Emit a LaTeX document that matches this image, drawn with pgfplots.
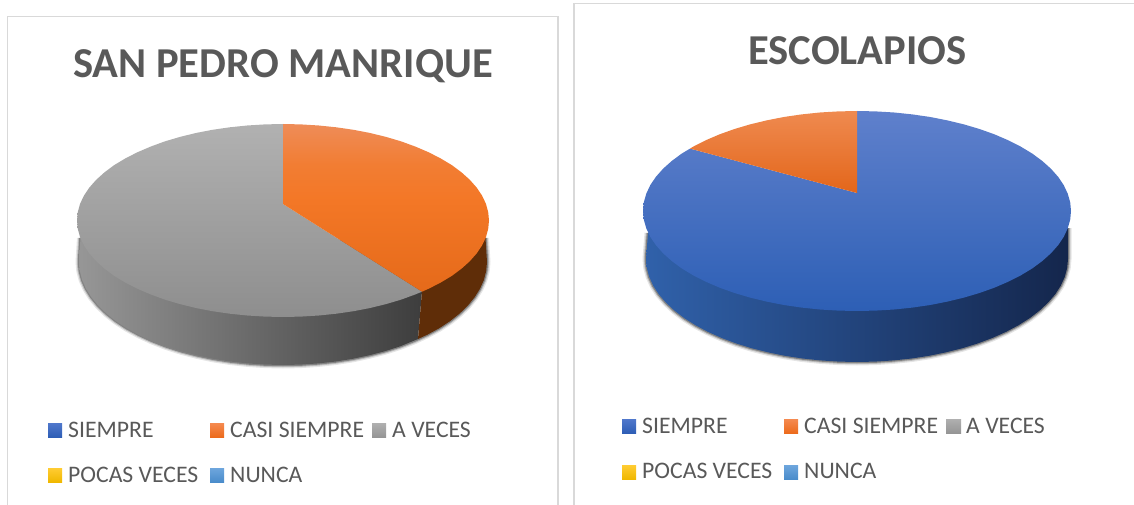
\documentclass[border=0pt]{standalone}
\usepackage{pgfplots}
\usepackage{pgfplotstable}
\usepackage{fontspec}
\setmainfont{Carlito}
\pgfplotsset{compat=1.18}
\definecolor{tc}{HTML}{595959}
\definecolor{bc}{HTML}{D9D9D9}
\definecolor{oa}{HTML}{EE8C58}
\definecolor{ob}{HTML}{F27D33}
\definecolor{oc}{HTML}{F37726}
\definecolor{od}{HTML}{E56A1A}
\pgfdeclareverticalshading{orangeA}{100bp}{color(0bp)=(od);color(25bp)=(od);color(52bp)=(oc);color(63bp)=(ob);color(75bp)=(oa);color(100bp)=(oa)}
\newcommand{\lgd}[3]{\node[anchor=base west, text=tc, inner sep=0pt] at (axis cs:#1,#2) {\fontsize{23.7}{23.7}\selectfont #3};}
% ---- lower rim arcs of the two pies (pixel coordinates of the picture)
\pgfplotstableread{
x y
80.5 238
79 262
79.8 271
82.1 279.9
86 288.7
91.3 297.2
98.1 305.5
106.3 313.5
115.9 321.1
126.7 328.2
138.8 334.8
151.9 340.9
166 346.4
181 351.2
196.8 355.3
213.2 358.8
230.2 361.5
247.6 363.4
265.2 364.6
283 365
300.8 364.6
318.4 363.4
335.8 361.5
352.8 358.8
369.2 355.3
385 351.2
400 346.4
414.1 340.9
427.2 334.8
439.3 328.2
450.1 321.1
459.7 313.5
467.9 305.5
474.7 297.2
480 288.7
483.9 279.9
486.2 271
487 262
485.5 238
}\rimA
\pgfplotstableread{
x y
648 233
646 259
646.8 268
649.2 276.9
653.2 285.7
658.7 294.2
665.8 302.5
674.3 310.5
684.2 318.1
695.4 325.2
707.8 331.8
721.4 337.9
736 343.4
751.5 348.2
767.8 352.3
784.8 355.8
802.4 358.5
820.4 360.4
838.6 361.6
857 362
875.4 361.6
893.6 360.4
911.6 358.5
929.2 355.8
946.2 352.3
962.5 348.2
978 343.4
992.6 337.9
1006.2 331.8
1018.6 325.2
1029.8 318.1
1039.7 310.5
1048.2 302.5
1055.3 294.2
1060.8 285.7
1064.8 276.9
1067.2 268
1068 259
1068 228
}\rimB
\begin{document}
\begin{tikzpicture}
\useasboundingbox (0,0) rectangle (1134pt,505pt);
\begin{axis}[
  scale only axis, width=1134pt, height=505pt,
  xmin=0, xmax=1134, ymin=0, ymax=505, y dir=reverse,
  hide axis, clip=true, axis on top=false,
]
% panel borders
\addplot[draw=bc, line width=1.5pt] coordinates {(7.5,510) (7.5,16.5) (558,16.5) (558,510)};
\addplot[draw=bc, line width=1.5pt] coordinates {(574,510) (574,3.5) (1140,3.5)};

% ---------- pie 1: soft shadow
\addplot[draw=black, opacity=.10, line width=7pt, line join=round] table[x=x,y=y] {\rimA};
\addplot[draw=black, opacity=.18, line width=4.5pt, line join=round] table[x=x,y=y] {\rimA};
\addplot[draw=black, opacity=.30, line width=2.5pt, line join=round] table[x=x,y=y] {\rimA};
% pie 1: rim
\addplot[draw=none, left color=black!41, middle color=black!65, right color=black!76] coordinates {
(80.5,238)(79,262)(79.8,271)(82.1,279.9)(86,288.7)(91.3,297.2)(98.1,305.5)(106.3,313.5)(115.9,321.1)(126.7,328.2)(138.8,334.8)(151.9,340.9)(166,346.4)(181,351.2)(196.8,355.3)(213.2,358.8)(230.2,361.5)(247.6,363.4)(265.2,364.6)(283,365)(300.8,364.6)(318.4,363.4)(335.8,361.5)(352.8,358.8)(369.2,355.3)(385,351.2)(400,346.4)(418,339)(422,291)(422,240)};
\addplot[fill={rgb,255:red,95;green,45;blue,8}, draw=none] coordinates {
(418,339)(427.2,334.8)(439.3,328.2)(450.1,321.1)(459.7,313.5)(467.9,305.5)(474.7,297.2)(480,288.7)(483.9,279.9)(486.2,271)(487,262)(485.5,238)(422,240)(422,291)};
% pie 1: top, grey slice
\addplot[draw=none, top color={rgb,255:red,177;green,177;blue,177}, bottom color={rgb,255:red,142;green,142;blue,142}] coordinates {
(283,204)(422,291.7)(415.4,294.4)(401.2,299.6)(386,304.1)(370.1,308)(353.5,311.2)(336.3,313.7)(318.8,315.5)(301,316.6)(283,317)(265,316.6)(247.2,315.5)(229.7,313.7)(212.5,311.2)(195.9,308)(180,304.1)(164.8,299.6)(150.6,294.4)(137.3,288.7)(125.2,282.5)(114.2,275.9)(104.6,268.75)(96.3,261.3)(89.4,253.5)(84,245.5)(80.1,237.3)(77.8,228.9)(77,220.5)(77.8,212.1)(80.1,203.7)(84,195.5)(89.4,187.5)(96.3,179.7)(104.6,172.25)(114.2,165.1)(125.2,158.5)(137.3,152.3)(150.6,146.6)(164.8,141.4)(180,136.9)(195.9,133)(212.5,129.8)(229.7,127.3)(247.2,125.5)(265,124.4)(283,124)};
% pie 1: top, orange slice
\addplot[draw=none, shade, shading=orangeA] coordinates {
(283,204)(283,124)(301,124.4)(318.8,125.5)(336.3,127.3)(353.5,129.8)(370.1,133)(386,136.9)(401.2,141.4)(415.4,146.6)(428.7,152.3)(440.8,158.5)(451.8,165.1)(461.4,172.25)(469.7,179.7)(476.6,187.5)(482,195.5)(485.9,203.7)(488.2,212.1)(489,220.5)(488.2,228.9)(485.9,237.3)(482,245.5)(476.6,253.5)(469.7,261.3)(461.4,268.75)(451.8,275.9)(440.8,282.5)(428.7,288.7)(422,291.7)};

% ---------- pie 2: soft shadow
\addplot[draw=black, opacity=.10, line width=7pt, line join=round] table[x=x,y=y] {\rimB};
\addplot[draw=black, opacity=.18, line width=4.5pt, line join=round] table[x=x,y=y] {\rimB};
\addplot[draw=black, opacity=.30, line width=2.5pt, line join=round] table[x=x,y=y] {\rimB};
% pie 2: rim
\addplot[draw=none, left color={rgb,255:red,48;green,97;blue,170}, middle color={rgb,255:red,26;green,54;blue,104}, right color={rgb,255:red,20;green,38;blue,76}] table[x=x,y=y] {\rimB};
% pie 2: top, blue slice
\addplot[draw=none, top color={rgb,255:red,95;green,128;blue,204}, middle color={rgb,255:red,62;green,110;blue,199}, bottom color={rgb,255:red,45;green,95;blue,181}] coordinates {
(857,193)(857,111)(875.7,111.4)(894.2,112.5)(912.4,114.4)(930.2,117)(947.4,120.4)(964,124.4)(979.8,129.1)(994.6,134.4)(1008.3,140.3)(1020.9,146.7)(1032.3,153.6)(1042.3,161)(1050.9,168.7)(1058.1,176.8)(1063.7,185.1)(1067.7,193.6)(1070.2,202.3)(1071,211)(1070.2,219.7)(1067.7,228.4)(1063.7,236.9)(1058.1,245.2)(1050.9,253.3)(1042.3,261)(1032.3,268.4)(1020.9,275.3)(1008.3,281.7)(994.6,287.6)(979.8,292.9)(964,297.6)(947.4,301.6)(930.2,305)(912.4,307.6)(894.2,309.5)(875.7,310.6)(857,311)(838.3,310.6)(819.8,309.5)(801.6,307.6)(783.8,305)(766.6,301.6)(750,297.6)(734.2,292.9)(719.4,287.6)(705.7,281.7)(693.1,275.3)(681.7,268.4)(671.7,261)(663.1,253.3)(655.9,245.2)(650.3,236.9)(646.3,228.4)(643.8,219.7)(643,211)(643.8,202.3)(646.3,193.6)(650.3,185.1)(655.9,176.8)(663.1,168.7)(671.7,161)(681.7,153.6)(690,148.6)};
% pie 2: top, orange slice
\addplot[draw=none, top color={rgb,255:red,239;green,138;blue,80}, middle color={rgb,255:red,240;green,118;blue,42}, bottom color={rgb,255:red,227;green,102;blue,26}] coordinates {
(857,193)(690,148.6)(693.1,146.7)(705.7,140.3)(719.4,134.4)(734.2,129.1)(750,124.4)(766.6,120.4)(783.8,117)(801.6,114.4)(819.8,112.5)(838.3,111.4)(857,111)};

% ---------- legend swatches, pie 1
\addplot[draw=none, top color={rgb,255:red,80;green,120;blue,204}, bottom color={rgb,255:red,45;green,93;blue,181}] coordinates {(48,423)(62,423)(62,437.5)(48,437.5)};
\addplot[draw=none, top color={rgb,255:red,245;green,138;blue,80}, bottom color={rgb,255:red,236;green,106;blue,27}] coordinates {(210,423)(224,423)(224,437.5)(210,437.5)};
\addplot[draw=none, top color={rgb,255:red,176;green,176;blue,176}, bottom color={rgb,255:red,148;green,148;blue,148}] coordinates {(372,423)(386,423)(386,437.5)(372,437.5)};
\addplot[draw=none, top color={rgb,255:red,255;green,204;blue,51}, bottom color={rgb,255:red,240;green,184;blue,0}] coordinates {(48,468)(62,468)(62,482)(48,482)};
\addplot[draw=none, top color={rgb,255:red,110;green,166;blue,221}, bottom color={rgb,255:red,74;green,140;blue,203}] coordinates {(210,468)(224,468)(224,482)(210,482)};
% ---------- legend swatches, pie 2
\addplot[draw=none, top color={rgb,255:red,80;green,120;blue,204}, bottom color={rgb,255:red,45;green,93;blue,181}] coordinates {(622,419)(636,419)(636,433.5)(622,433.5)};
\addplot[draw=none, top color={rgb,255:red,245;green,138;blue,80}, bottom color={rgb,255:red,236;green,106;blue,27}] coordinates {(784,419)(798,419)(798,433.5)(784,433.5)};
\addplot[draw=none, top color={rgb,255:red,176;green,176;blue,176}, bottom color={rgb,255:red,148;green,148;blue,148}] coordinates {(946,419)(961,419)(961,433.5)(946,433.5)};
\addplot[draw=none, top color={rgb,255:red,255;green,204;blue,51}, bottom color={rgb,255:red,240;green,184;blue,0}] coordinates {(622,465)(636,465)(636,479)(622,479)};
\addplot[draw=none, top color={rgb,255:red,110;green,166;blue,221}, bottom color={rgb,255:red,74;green,140;blue,203}] coordinates {(784,465)(798,465)(798,479)(784,479)};

% ---------- text
\node[anchor=base, text=tc, inner sep=0pt] at (axis cs:283,77.5) {\fontsize{42.6}{42.6}\selectfont\bfseries SAN PEDRO MANRIQUE};
\node[anchor=base, text=tc, inner sep=0pt] at (axis cs:857.5,64.5) {\fontsize{42.6}{42.6}\selectfont\bfseries ESCOLAPIOS};
\lgd{68}{437}{SIEMPRE}
\lgd{230}{437}{CASI SIEMPRE}
\lgd{392}{437}{A VECES}
\lgd{68}{482}{POCAS VECES}
\lgd{230}{482}{NUNCA}
\lgd{642}{433}{SIEMPRE}
\lgd{804}{433}{CASI SIEMPRE}
\lgd{966}{433}{A VECES}
\lgd{642}{478}{POCAS VECES}
\lgd{804}{478}{NUNCA}
\end{axis}
\end{tikzpicture}
\end{document}
